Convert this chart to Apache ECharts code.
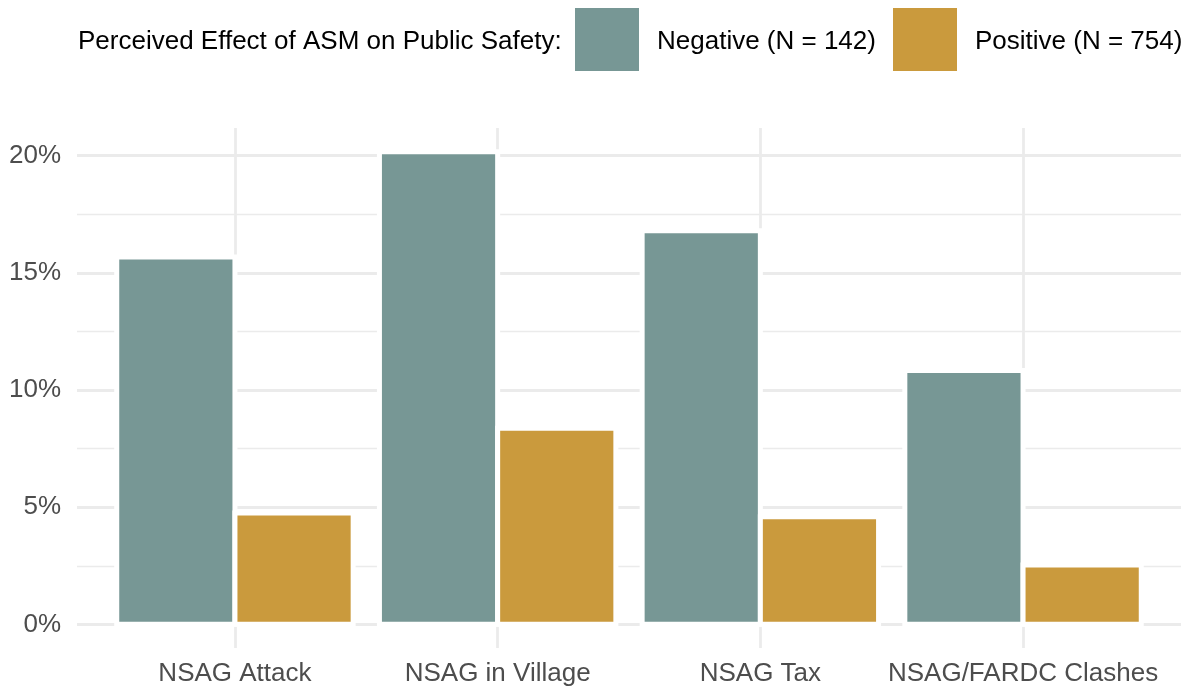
<!DOCTYPE html>
<html>
<head>
<meta charset="utf-8">
<script src="https://cdn.jsdelivr.net/npm/echarts@6/dist/echarts.min.js"></script>
<style>
html,body{margin:0;padding:0;background:#fff;}
#chart{width:1190px;height:690px;}
</style>
</head>
<body>
<div id="chart"></div>
<script>
const categories = ['NSAG Attack', 'NSAG in Village', 'NSAG Tax', 'NSAG/FARDC Clashes'];
const negativeValues = [15.67, 20.17, 16.79, 10.83];
const positiveValues = [4.75, 8.37, 4.59, 2.53];
const seriesNames = ['Negative (N = 142)', 'Positive (N = 754)'];
const seriesColors = ['#779795', '#ca9a3d'];
const yTicks = [0, 5, 10, 15, 20];
const yMinorTicks = [2.5, 7.5, 12.5, 17.5];
const legendTitle = 'Perceived Effect of ASM on Public Safety:';

const FONT = '"Liberation Sans", Arial, Helvetica, sans-serif';
const maxVal = Math.max(...negativeValues, ...positiveValues);
const yMin = -0.05 * maxVal;
const yMax = maxVal * 1.05;
const GRID = '#ebebeb';

const chart = echarts.init(document.getElementById('chart'), null, {renderer: 'canvas'});

const hLines = yTicks.map(v => ({yAxis: v, lineStyle: {width: 2.8, color: GRID, type: 'solid'}}))
  .concat(yMinorTicks.map(v => ({yAxis: v, lineStyle: {width: 1.4, color: GRID, type: 'solid'}})));
const vLines = categories.map(c => ({xAxis: c, lineStyle: {width: 2.8, color: GRID, type: 'solid'}}));

const legendCommon = {
  top: 8,
  padding: 0,
  orient: 'horizontal',
  itemWidth: 64,
  itemHeight: 63,
  icon: 'rect',
  formatter: '{t|{name}}',
  textStyle: {
    fontSize: 26, fontFamily: FONT, color: '#000000',
    rich: {t: {fontSize: 26, fontFamily: FONT, color: '#000000', padding: [5, 0, 0, 13]}}
  }
};

// dodge: side = 0 for left bar, 1 for right bar; ggplot width 0.9 split in two
function makeRender(side, color) {
  return function (params, api) {
    const idx = api.value(0);
    const v = api.value(1);
    const band = api.size([1, 0])[0];
    const w = band * 0.45;
    const base = api.coord([idx, 0]);
    const top = api.coord([idx, v]);
    const x0 = side === 0 ? base[0] - w : base[0];
    return {
      type: 'rect',
      shape: {x: x0, y: top[1], width: w, height: base[1] - top[1]},
      style: {fill: color, stroke: '#ffffff', lineWidth: 5}
    };
  };
}

chart.setOption({
  animation: false,
  backgroundColor: '#ffffff',
  graphic: [{
    type: 'text',
    left: 78,
    top: 29,
    style: {text: legendTitle, font: '26px ' + FONT, fill: '#000000'}
  }],
  legend: [
    Object.assign({left: 575, data: [{name: seriesNames[0], itemStyle: {color: seriesColors[0], borderWidth: 0}}]}, legendCommon),
    Object.assign({left: 893, data: [{name: seriesNames[1], itemStyle: {color: seriesColors[1], borderWidth: 0}}]}, legendCommon)
  ],
  grid: [
    {left: 77, right: 9, top: 128, bottom: 42},
    {left: 103.6, right: 35.6, top: 128, bottom: 42}
  ],
  xAxis: [
    {gridIndex: 0, type: 'value', min: 0, max: 1, show: false},
    {
      gridIndex: 1, type: 'category', data: categories,
      axisLine: {show: false}, axisTick: {show: false}, splitLine: {show: false},
      axisLabel: {interval: 0, fontSize: 26, fontFamily: FONT, color: '#4d4d4d', margin: 13}
    }
  ],
  yAxis: [
    {
      gridIndex: 0, type: 'value', min: yMin, max: yMax,
      axisLine: {show: false}, axisTick: {show: false}, splitLine: {show: false},
      axisLabel: {
        customValues: yTicks,
        formatter: v => v + '%',
        fontSize: 26, fontFamily: FONT, color: '#4d4d4d', margin: 16
      }
    },
    {gridIndex: 1, type: 'value', min: yMin, max: yMax, show: false, splitLine: {show: false}}
  ],
  series: [
    {
      type: 'line', xAxisIndex: 0, yAxisIndex: 0, data: [], z: 0, silent: true,
      markLine: {silent: true, symbol: ['none', 'none'], label: {show: false}, z: 0, animation: false, data: hLines}
    },
    {
      type: 'line', xAxisIndex: 1, yAxisIndex: 1, data: [], z: 0, silent: true,
      markLine: {silent: true, symbol: ['none', 'none'], label: {show: false}, z: 0, animation: false, data: vLines}
    },
    {
      name: seriesNames[0], type: 'custom', xAxisIndex: 1, yAxisIndex: 1, z: 3,
      itemStyle: {color: seriesColors[0]},
      encode: {x: 0, y: 1},
      data: negativeValues.map((v, i) => [i, v]),
      renderItem: makeRender(0, seriesColors[0])
    },
    {
      name: seriesNames[1], type: 'custom', xAxisIndex: 1, yAxisIndex: 1, z: 3,
      itemStyle: {color: seriesColors[1]},
      encode: {x: 0, y: 1},
      data: positiveValues.map((v, i) => [i, v]),
      renderItem: makeRender(1, seriesColors[1])
    }
  ]
});
</script>
</body>
</html>
